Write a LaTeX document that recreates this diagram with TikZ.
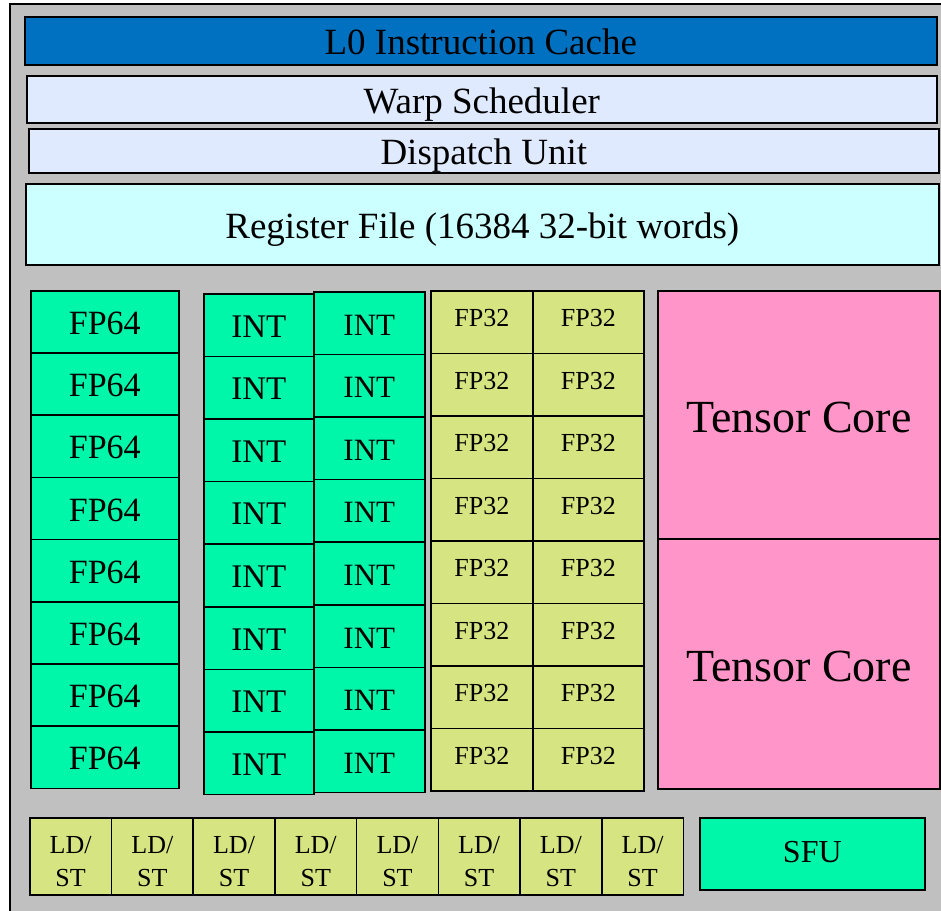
\documentclass[tikz,border=0pt]{standalone}
\usepackage{fontspec}
\setmainfont{Liberation Serif}
\usepackage{xcolor}
\usepackage{tikz}
\usetikzlibrary{positioning}
\definecolor{smgrey}{RGB}{192,192,192}
\definecolor{cacheblue}{RGB}{0,112,192}
\definecolor{schedblue}{RGB}{224,234,254}
\definecolor{regcyan}{RGB}{204,255,255}
\definecolor{unitgreen}{RGB}{0,247,169}
\definecolor{fpyellow}{RGB}{214,228,129}
\definecolor{tensorpink}{RGB}{255,149,201}
\newcommand{\unitfont}[1]{\fontsize{#1}{#1}\selectfont}

\begin{document}
\begin{tikzpicture}[
  x=1pt, y=-1pt,
  unit/.style={draw=black, line width=1.6pt, inner sep=0pt,
               anchor=north west, align=center},
  bar/.style={unit, minimum width=912, text height=28, text depth=0pt, font=\unitfont{37}},
  fpbox/.style={unit, fill=unitgreen, minimum height=62.2, text height=24, text depth=0pt, font=\unitfont{33}},
  spbox/.style={unit, fill=fpyellow, minimum height=62.5, text height=9, text depth=0pt, font=\unitfont{26}},
  ldbox/.style={unit, fill=fpyellow, minimum width=81.7, minimum height=77, font=\fontsize{26}{33}\selectfont}
]
  \useasboundingbox (0,0) rectangle (941,910);
  \clip (0,0) rectangle (941,910);
  \draw[fill=smgrey, line width=1.6pt] (10,4) rectangle (970,940);
  \node[bar, fill=cacheblue, minimum height=48] (cache) at (24,16) {L0 Instruction Cache};
  \node[bar, fill=schedblue, minimum height=47, minimum width=910] (warp) at (26,75) {Warp Scheduler};
  \node[bar, fill=schedblue, minimum height=44, minimum width=910] (dispatch) at (28,128) {Dispatch Unit};
  \node[bar, fill=regcyan, minimum height=81, minimum width=913] (regfile) at (25,183) {Register File (16384 32-bit words)};
  \foreach \i in {0,...,7} {
    \node[fpbox, minimum width=148, text height=25, font=\unitfont{34}] (fp64-\i) at (30,290+62.2*\i) {FP64};
    \node[fpbox, minimum width=110, minimum height=62.6] (inta-\i) at (203,293+62.6*\i) {INT};
    \node[fpbox, minimum width=111, minimum height=62.6, font=\unitfont{31}] (intb-\i) at (313,291+62.6*\i) {INT};
    \node[spbox, minimum width=102] (fp32a-\i) at (430,290+62.5*\i) {FP32};
    \node[spbox, minimum width=111] (fp32b-\i) at (532,290+62.5*\i) {FP32};
    \node[ldbox] (ldst-\i) at (29+81.7*\i,817) {\rule{0pt}{27pt}LD/\\ST};
  }
  \node[unit, fill=tensorpink, minimum width=282, minimum height=248, text height=36, text depth=0pt, font=\unitfont{46}] (tensor-a) at (657,290) {Tensor Core};
  \node[unit, fill=tensorpink, minimum width=282, minimum height=250, text height=36, text depth=0pt, font=\unitfont{46}] (tensor-b) at (657,538) {Tensor Core};
  \node[unit, fill=unitgreen, minimum width=225, minimum height=72, text height=17, text depth=0pt, font=\unitfont{32}] (sfu) at (699,817) {SFU};
\end{tikzpicture}
\end{document}
